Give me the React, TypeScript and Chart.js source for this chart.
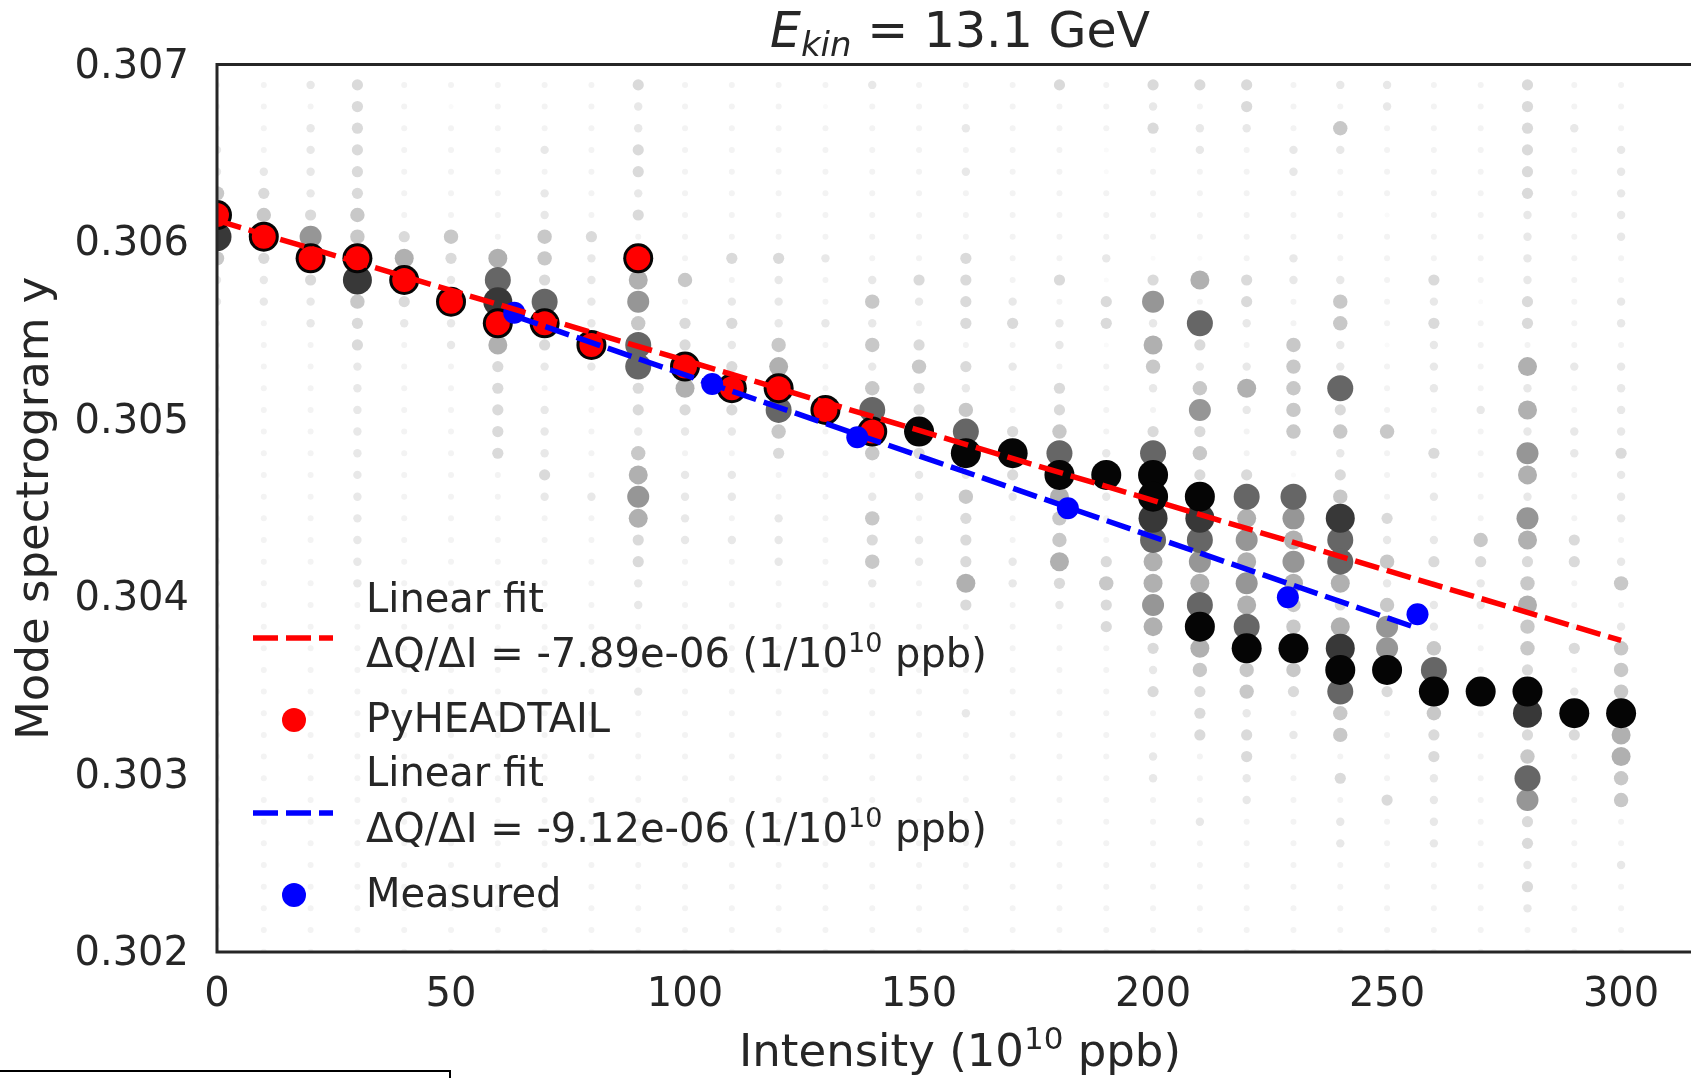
import React, { useEffect, useRef } from 'react';
import { Chart, registerables } from 'chart.js';

Chart.register(...registerables);

// ---------------- data ----------------
const INTENSITIES = [0, 10, 20, 30, 40, 50, 60, 70, 80, 90, 100, 110, 120, 130, 140, 150, 160, 170, 180, 190, 200, 210, 220, 230, 240, 250, 260, 270, 280, 290, 300];

// spectrogram tune bins (top row first)
const TUNE_BINS = [
  0.306885, 0.306763, 0.306641, 0.306519, 0.306396, 0.306274, 0.306152, 0.30603, 0.305908, 0.305786,
  0.305664, 0.305542, 0.30542, 0.305298, 0.305176, 0.305054, 0.304932, 0.30481, 0.304688, 0.304565,
  0.304443, 0.304321, 0.304199, 0.304077, 0.303955, 0.303833, 0.303711, 0.303589, 0.303467, 0.303345,
  0.303223, 0.303101, 0.302979, 0.302856, 0.302734, 0.302612, 0.30249, 0.302368, 0.302246, 0.302124,
  0.302002,
];

// spectrogram amplitude level (0 faint .. 9 max) per intensity column, one digit per tune bin (top first)
const SPECTRUM_LEVELS = [
  '111224984221111111111' + '11111111111111111111',
  '111123493221111111111' + '11111111111111111111',
  '212222369322111111111' + '11111111111111111111',
  '333333449843322222222' + '22211111111111111111',
  '111111135932111111111' + '11111111111111111111',
  '101111143292211111111' + '11111111111111111111',
  '111111115789533333111' + '11111111111111111111',
  '111212244379321222321' + '11111111111111111111',
  '111111132222921111121' + '11111111111111111111',
  '322332319564773324565' + '33221112111111111111',
  '111111111413395321222' + '21111111111111111111',
  '111111113123239321221' + '21111111111111111111',
  '111111113222459743112' + '22111111111111111111',
  '101111112112111911111' + '11111111111111111111',
  '211111111242424794124' + '34211111111111111111',
  '111111111321343393221' + '22111111111111111111',
  '112121113333132479243' + '33531111211111111111',
  '111111111123121139321' + '12211111111111111111',
  '311111111312213347954' + '45321111111111111111',
  '111001112033011112921' + '13433111111111111111',
  '323111110362542137998' + '75565323112211111111',
  '312211110517324634398' + '76579543331112111111',
  '332111111332125211375' + '65657944233221111111',
  '111221112211444441076' + '56544943121111111111',
  '214211111244227342348' + '77535897441312211111',
  '221111011111011141113' + '24246693111131111111',
  '111111111323222113121' + '23122479433222211111',
  '111111111101111211111' + '43221119111111111111',
  '333333222233152526526' + '53454439834763323211',
  '112111111111121122111' + '33111312931111111111',
  '111222221122122223222' + '12412444955441121111',
];

const PYHT_INTENSITY = [0, 10, 20, 30, 40, 50, 60, 70, 80, 90, 100, 110, 120, 130, 140];
const PYHT_TUNE = [0.306152, 0.30603, 0.305908, 0.305908, 0.305786, 0.305664, 0.305542, 0.305542, 0.30542, 0.305908, 0.305298, 0.305176, 0.305176, 0.305054, 0.304932];

const MEASURED_INTENSITY = [63.5, 105.8, 136.8, 181.8, 228.8, 256.5];
const MEASURED_TUNE = [0.305602, 0.3052, 0.3049, 0.3045, 0.303999, 0.303903];

const PYHT_FIT_INTENSITY = [0, 300];
const PYHT_FIT_TUNE = [0.306122, 0.303755];
const MEASURED_FIT_INTENSITY = [63.5, 256.5];
const MEASURED_FIT_TUNE = [0.305584, 0.303824];

const X_TICKS = [0, 50, 100, 150, 200, 250, 300];
const Y_TICKS = [0.302, 0.303, 0.304, 0.305, 0.306, 0.307];

const FIT_SLOPE_LABELS = ['ΔQ/ΔI = -7.89e-06 (1/10', 'ΔQ/ΔI = -9.12e-06 (1/10'];

// ---------------- style ----------------
const LEVEL_SHADES = ['#fafafa', '#f3f3f3', '#e8e8e8', '#dadada', '#c8c8c8', '#b0b0b0', '#969696', '#666666', '#383838', '#050505'];
const LEVEL_RADII = [2.5, 3, 4.2, 5.6, 7.2, 9.5, 11, 13, 14.5, 15];

const FAMILY = '"DejaVu Sans", "Liberation Sans", sans-serif';
const TEXT = '#262626';
const W = 1760;
const H = 1078;
const PLOT_LEFT = 217;
const PLOT_TOP = 64.5;
const PLOT_BOTTOM = 952;
const PLOT_RIGHT = 1703;
const X_MAX = 317.5;

function drawRich(
  ctx: CanvasRenderingContext2D,
  x: number,
  y: number,
  parts: { t: string; sup?: boolean }[],
  size = 40,
  align: 'left' | 'center' = 'left'
) {
  const supSize = Math.round(size * 0.68);
  const rise = size * 0.38;
  if (align === 'center') {
    let total = 0;
    for (const p of parts) {
      ctx.font = `${p.sup ? supSize : size}px ${FAMILY}`;
      total += ctx.measureText(p.t).width;
    }
    x -= total / 2;
  }
  for (const p of parts) {
    ctx.font = `${p.sup ? supSize : size}px ${FAMILY}`;
    ctx.fillText(p.t, x, p.sup ? y - rise : y);
    x += ctx.measureText(p.t).width;
  }
}

function drawDash(ctx: CanvasRenderingContext2D, x0: number, x1: number, y: number, color: string) {
  ctx.save();
  ctx.strokeStyle = color;
  ctx.lineWidth = 5.5;
  ctx.setLineDash([25, 8]);
  ctx.lineCap = 'butt';
  ctx.beginPath();
  ctx.moveTo(x0, y);
  ctx.lineTo(x1, y);
  ctx.stroke();
  ctx.restore();
}

const framePlugin = {
  id: 'frameTitleLegend',
  afterDatasetsDraw(chart: any) {
    const { ctx, chartArea } = chart;
    ctx.save();
    ctx.strokeStyle = TEXT;
    ctx.lineWidth = 3;
    ctx.beginPath();
    ctx.moveTo(W + 10, chartArea.top);
    ctx.lineTo(chartArea.left, chartArea.top);
    ctx.lineTo(chartArea.left, chartArea.bottom);
    ctx.lineTo(W + 10, chartArea.bottom);
    ctx.stroke();
    ctx.restore();
  },
  afterDraw(chart: any) {
    const { ctx, chartArea } = chart;
    ctx.save();
    ctx.fillStyle = TEXT;
    ctx.textBaseline = 'alphabetic';
    ctx.textAlign = 'left';

    const cx = (chartArea.left + chartArea.right) / 2;

    // title: E_kin = 13.1 GeV
    const baseY = 47;
    ctx.font = `italic 49px ${FAMILY}`;
    const wE = ctx.measureText('E').width;
    ctx.font = `italic 34px ${FAMILY}`;
    const wSub = ctx.measureText('kin').width;
    ctx.font = `49px ${FAMILY}`;
    const wRest = ctx.measureText(' = 13.1 GeV').width;
    let x = cx - (wE + wSub + wRest) / 2;
    ctx.font = `italic 49px ${FAMILY}`;
    ctx.fillText('E', x, baseY);
    x += wE;
    ctx.font = `italic 34px ${FAMILY}`;
    ctx.fillText('kin', x, baseY + 9);
    x += wSub;
    ctx.font = `49px ${FAMILY}`;
    ctx.fillText(' = 13.1 GeV', x, baseY);

    // x axis title with superscript
    drawRich(ctx, cx, 1066, [{ t: 'Intensity (10' }, { t: '10', sup: true }, { t: ' ppb)' }], 45, 'center');

    // legend
    const tx = 366;
    drawDash(ctx, 253, 333, 638, '#ff0000');
    drawRich(ctx, tx, 612, [{ t: 'Linear fit' }]);
    drawRich(ctx, tx, 667, [{ t: FIT_SLOPE_LABELS[0] }, { t: '10', sup: true }, { t: ' ppb)' }]);
    ctx.fillStyle = '#ff0000';
    ctx.beginPath();
    ctx.arc(294, 720, 12, 0, Math.PI * 2);
    ctx.fill();
    ctx.fillStyle = TEXT;
    drawRich(ctx, tx, 732, [{ t: 'PyHEADTAIL' }]);
    drawDash(ctx, 253, 333, 813, '#0000ff');
    drawRich(ctx, tx, 786, [{ t: 'Linear fit' }]);
    drawRich(ctx, tx, 842, [{ t: FIT_SLOPE_LABELS[1] }, { t: '10', sup: true }, { t: ' ppb)' }]);
    ctx.fillStyle = '#0000ff';
    ctx.beginPath();
    ctx.arc(294, 895, 12, 0, Math.PI * 2);
    ctx.fill();
    ctx.fillStyle = TEXT;
    drawRich(ctx, tx, 907, [{ t: 'Measured' }]);
    ctx.restore();
  },
};

export default function App() {
  const ref = useRef<HTMLCanvasElement>(null);

  useEffect(() => {
    const canvas = ref.current;
    if (!canvas) return;
    Chart.defaults.font.family = FAMILY;

    const gridPoints: { x: number; y: number; level: number }[] = [];
    SPECTRUM_LEVELS.forEach((col, j) => {
      for (let r = 0; r < TUNE_BINS.length; r++) {
        gridPoints.push({ x: INTENSITIES[j], y: TUNE_BINS[r], level: Number(col[r]) });
      }
    });
    gridPoints.sort((a, b) => a.level - b.level);

    const pyht = PYHT_INTENSITY.map((x, i) => ({ x, y: PYHT_TUNE[i] }));
    const measured = MEASURED_INTENSITY.map((x, i) => ({ x, y: MEASURED_TUNE[i] }));
    const pyhtFit = PYHT_FIT_INTENSITY.map((x, i) => ({ x, y: PYHT_FIT_TUNE[i] }));
    const measFit = MEASURED_FIT_INTENSITY.map((x, i) => ({ x, y: MEASURED_FIT_TUNE[i] }));

    const chart = new Chart(canvas, {
      type: 'scatter',
      data: {
        datasets: [
          {
            label: 'Linear fit measured',
            data: measFit,
            showLine: true,
            borderColor: '#0000ff',
            borderWidth: 5.5,
            borderDash: [25, 8],
            pointRadius: 0,
            pointHitRadius: 0,
            order: 0,
            clip: 0,
          },
          {
            label: 'Linear fit PyHEADTAIL',
            data: pyhtFit,
            showLine: true,
            borderColor: '#ff0000',
            borderWidth: 5.5,
            borderDash: [25, 8],
            pointRadius: 0,
            pointHitRadius: 0,
            order: 1,
            clip: 0,
          },
          {
            label: 'Measured',
            data: measured,
            pointRadius: 11,
            pointBackgroundColor: '#0000ff',
            pointBorderWidth: 0,
            order: 2,
            clip: 0,
          },
          {
            label: 'PyHEADTAIL',
            data: pyht,
            pointRadius: 12,
            pointBackgroundColor: '#ff0000',
            pointBorderWidth: 0,
            order: 3,
            clip: 0,
          },
          {
            label: 'Spectrogram',
            data: gridPoints,
            pointRadius: gridPoints.map((p) => LEVEL_RADII[p.level]),
            pointBackgroundColor: gridPoints.map((p) => LEVEL_SHADES[p.level]),
            pointBorderWidth: 0,
            order: 4,
            clip: 0,
          },
        ],
      },
      options: {
        responsive: false,
        animation: false,
        devicePixelRatio: 1,
        events: [],
        layout: { padding: { left: 0, top: PLOT_TOP, right: W - PLOT_RIGHT, bottom: 0 } },
        plugins: {
          legend: { display: false },
          title: { display: false },
          tooltip: { enabled: false },
        },
        scales: {
          x: {
            type: 'linear',
            min: 0,
            max: X_MAX,
            afterBuildTicks: (axis: any) => {
              axis.ticks = X_TICKS.map((v) => ({ value: v }));
            },
            afterFit: (axis: any) => {
              axis.height = H - PLOT_BOTTOM;
            },
            grid: { display: false, drawTicks: false },
            border: { display: false },
            ticks: {
              color: TEXT,
              font: { size: 40 },
              padding: 20,
              maxRotation: 0,
              autoSkip: false,
              callback: (v: any) => String(v),
            },
            title: { display: false, text: 'Intensity (10¹⁰ ppb)' },
          },
          y: {
            type: 'linear',
            min: 0.302,
            max: 0.307,
            afterBuildTicks: (axis: any) => {
              axis.ticks = Y_TICKS.map((v) => ({ value: v }));
            },
            afterFit: (axis: any) => {
              axis.width = PLOT_LEFT;
            },
            grid: { display: false, drawTicks: false },
            border: { display: false },
            ticks: {
              color: TEXT,
              font: { size: 40 },
              padding: 28,
              labelOffset: 3,
              autoSkip: false,
              callback: (v: any) => Number(v).toFixed(3),
            },
            title: {
              display: true,
              text: 'Mode spectrogram y',
              color: TEXT,
              font: { size: 45 },
              padding: { top: 9, bottom: 0 },
            },
          },
        },
      },
      plugins: [framePlugin],
    } as any);

    return () => chart.destroy();
  }, []);

  return (
    <div style={{ position: 'fixed', left: 0, top: 0, width: 1691, height: 1078, overflow: 'hidden', background: '#ffffff' }}>
      <canvas ref={ref} width={W} height={H} style={{ display: 'block', width: W, height: H }} />
      <div
        style={{
          position: 'absolute',
          left: -10,
          top: 1070,
          width: 461,
          height: 40,
          border: '2px solid #000000',
          boxSizing: 'border-box',
        }}
      />
    </div>
  );
}
